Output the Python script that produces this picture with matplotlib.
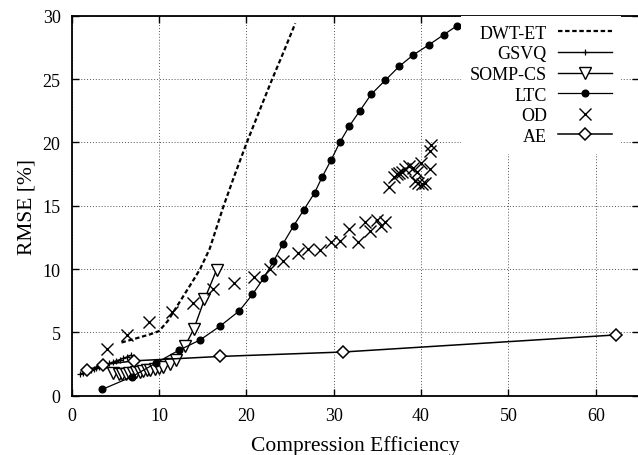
import matplotlib
matplotlib.use("Agg")
import matplotlib.pyplot as plt

plt.rcParams["font.family"] = ["Liberation Serif", "DejaVu Serif"]

# DWT-ET (dashed curve, no markers)
dwt_x = [5.7, 7.5, 9.0, 10.0, 11.0, 12.0, 13.0, 14.0, 14.7, 15.8, 17.4, 18.7, 20.0, 21.5, 22.9, 24.3, 25.6]
dwt_y = [4.2, 4.55, 4.85, 5.1, 5.9, 7.0, 8.1, 9.2, 10.0, 11.6, 15.0, 17.5, 19.9, 22.5, 24.9, 27.2, 29.4]

# GSVQ
gsvq_x = [1.0, 1.3, 1.6, 1.9, 2.2, 2.5, 2.8, 3.1, 3.5, 3.9, 4.3, 4.7, 5.1, 5.5, 5.9, 6.3, 6.8]
gsvq_y = [1.72, 1.78, 1.85, 1.92, 2.0, 2.08, 2.17, 2.25, 2.35, 2.45, 2.55, 2.65, 2.75, 2.85, 2.95, 3.05, 3.2]

# SOMP-CS
somp_x = [4.7, 5.4, 5.8, 6.2, 6.6, 7.0, 7.4, 7.8, 8.2, 8.6, 9.0, 9.5, 10.0, 10.5, 11.2, 11.9, 13.0, 14.0, 15.2, 16.6]
somp_y = [1.8, 1.75, 1.72, 1.75, 1.78, 1.82, 1.86, 1.9, 1.95, 2.0, 2.05, 2.12, 2.2, 2.3, 2.5, 2.8, 3.95, 5.3, 7.6, 9.95]

# LTC
ltc_x = [3.5, 6.9, 9.7, 12.3, 14.7, 17.0, 19.2, 20.7, 22.0, 23.1, 24.2, 25.4, 26.6,
         27.8, 28.7, 29.7, 30.7, 31.8, 33.0, 34.3, 35.9, 37.5, 39.1, 40.9, 42.6, 44.1]
ltc_y = [0.5, 1.5, 2.6, 3.6, 4.4, 5.5, 6.7, 8.0, 9.3, 10.6, 12.0, 13.4, 14.7,
         16.0, 17.3, 18.6, 20.0, 21.3, 22.5, 23.8, 24.9, 26.0, 26.9, 27.7, 28.5, 29.2]

# OD (scatter only)
od_x = [4.0, 6.3, 8.85, 11.5, 13.9, 16.2, 18.6, 20.9, 22.7, 24.2, 25.9, 27.1, 28.4,
        29.7, 30.7, 31.7, 32.8, 33.6, 34.2, 34.9, 35.4, 35.9, 36.3, 36.9, 37.2, 37.5,
        37.8, 38.2, 38.6, 39.1, 39.5, 40.0, 41.0, 39.3, 39.7, 40.1, 40.5, 41.0, 41.1]
od_y = [3.65, 4.8, 5.8, 6.6, 7.3, 8.4, 8.9, 9.35, 10.0, 10.65, 11.3, 11.6, 11.5,
        12.1, 12.25, 13.2, 12.15, 13.7, 13.0, 13.9, 13.4, 13.7, 16.5, 17.3, 17.5, 17.6,
        17.7, 17.9, 18.1, 18.0, 17.7, 18.4, 17.9, 16.95, 16.8, 16.7, 16.8, 19.3, 19.8]

# AE
ae_x = [1.7, 3.6, 7.1, 17.0, 31.1, 62.35]
ae_y = [2.0, 2.45, 2.75, 3.1, 3.45, 4.8]

fig = plt.figure(figsize=(6.38, 4.56), dpi=100)
ax = fig.add_axes([71.7 / 638, 59.3 / 456, 567.7 / 638, 380 / 456])

ax.plot(dwt_x, dwt_y, color="black", linestyle=(0, (2.0, 1.2)), linewidth=1.6, label="DWT-ET")
ax.plot(gsvq_x, gsvq_y, color="black", linewidth=1.0, marker="+", markersize=5,
        markeredgewidth=0.9, label="GSVQ")
ax.plot(somp_x, somp_y, color="black", linewidth=1.0, marker="v", markersize=8,
        markerfacecolor="white", markeredgewidth=1.0, label="SOMP-CS")
ax.plot(ltc_x, ltc_y, color="black", linewidth=0.9, marker="o", markersize=4.8, label="LTC")
ax.plot(od_x, od_y, color="black", linestyle="none", marker="x", markersize=8,
        markeredgewidth=1.0, label="OD")
ax.plot(ae_x, ae_y, color="black", linewidth=1.1, marker="D", markersize=6,
        markerfacecolor="white", markeredgewidth=1.1, label="AE")

ax.set_xlim(0, 65)
ax.set_ylim(0, 30)
ax.set_xticks(range(0, 61, 10))
ax.set_yticks(range(0, 31, 5))
ax.tick_params(direction="in", top=True, right=True, length=5, width=1,
               labelsize=13, pad=8)
ax.grid(True, color="#555555", linestyle=(0, (1, 2)), linewidth=0.7)
ax.set_axisbelow(True)
for s in ax.spines.values():
    s.set_linewidth(1.3)

ax.set_xlabel("Compression Efficiency", fontsize=15.5, labelpad=8)
ax.set_ylabel("RMSE [%]", fontsize=15.5, labelpad=4)

# legend: labels on the left, samples on the right, white box without border
leg = ax.legend(loc="upper right", bbox_to_anchor=(621 / 638, 1 - 16.7 / 456),
                bbox_transform=fig.transFigure,
                markerfirst=False, alignment="right", fontsize=13, handlelength=3.0,
                handletextpad=0.6, labelspacing=0.2, borderaxespad=0, borderpad=0.5,
                frameon=True, fancybox=False, framealpha=1, edgecolor="white")
leg.get_frame().set_linewidth(0)

fig.savefig("out.png", dpi=100)
